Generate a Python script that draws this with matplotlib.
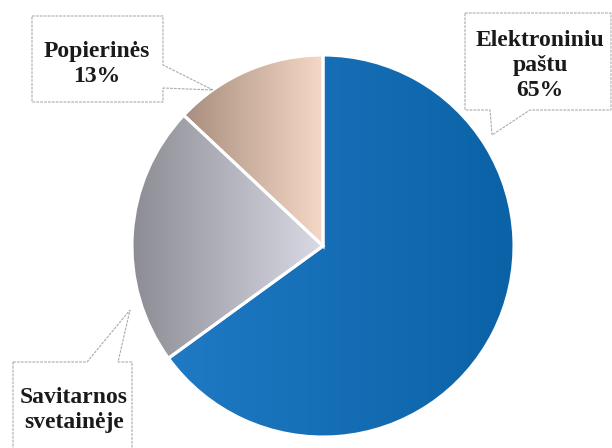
import matplotlib
matplotlib.use("Agg")
import matplotlib.pyplot as plt
import numpy as np
from matplotlib.colors import LinearSegmentedColormap
from matplotlib.patches import Polygon

# data
labels = ["Elektroniniu\npaštu\n65%", "Savitarnos\nsvetainėje", "Popierinės\n13%"]
shares = [65, 22, 13]
# gradient colours per slice (left side, right side)
grad_colors = [("#1f7ac4", "#0b62a6"), ("#8c8c94", "#dadae6"), ("#a88e7e", "#f6d8c6")]

W, H = 612, 448


def fy(y):
    # pixel row (from top) -> data y
    return H - y


fig = plt.figure(figsize=(W / 100, H / 100), dpi=100)
ax = fig.add_axes([0, 0, 1, 1])

cx, cy, r = 323, fy(246), 191
wedges, _ = ax.pie(shares, startangle=90, counterclock=False,
                   center=(cx, cy), radius=r,
                   colors=[c[1] for c in grad_colors],
                   wedgeprops=dict(edgecolor="white", linewidth=2.2))

# horizontal shading inside each slice
grad = np.linspace(0, 1, 256).reshape(1, -1)
for w, (c0, c1) in zip(wedges, grad_colors):
    cmap = LinearSegmentedColormap.from_list("g", [c0, c1])
    th1, th2 = np.radians(w.theta1), np.radians(w.theta2)
    angs = np.linspace(th1, th2, 100)
    xs = np.concatenate([[cx], cx + r * np.cos(angs)])
    x0, x1 = xs.min(), xs.max()
    im = ax.imshow(grad, cmap=cmap, extent=(x0, x1, cy - r, cy + r),
                   aspect="auto", zorder=1.5, interpolation="bilinear")
    im.set_clip_path(w)
    w.set_zorder(2)
    w.set_facecolor("none")

# callout boxes (pixel coordinates from the top-left)
boxes = [
    [(465, 13), (611, 13), (611, 110), (530, 110), (492, 135), (490, 110), (465, 110)],
    [(13, 362), (87, 362), (130, 310), (118, 362), (132, 362), (132, 460), (13, 460)],
    [(32, 16), (163, 16), (163, 65), (213, 90), (163, 88), (163, 102), (32, 102)],
]
text_pos = [(540, 65), (74, 410), (97, 64)]

for pts, (tx, ty), txt in zip(boxes, text_pos, labels):
    poly = Polygon([(x, fy(y)) for x, y in pts], closed=True, facecolor="white",
                   edgecolor="#ababab", linewidth=0.8, linestyle=(0, (2.5, 1)),
                   zorder=3)
    ax.add_patch(poly)
    ax.text(tx, fy(ty), txt, ha="center", va="center", fontsize=17,
            fontweight="bold", family="Liberation Serif", color="#1a1a1a",
            linespacing=1.25, zorder=4)

ax.set_xlim(0, W)
ax.set_ylim(0, H)
ax.set_aspect("auto")
ax.axis("off")

fig.savefig("out.png", dpi=100)
